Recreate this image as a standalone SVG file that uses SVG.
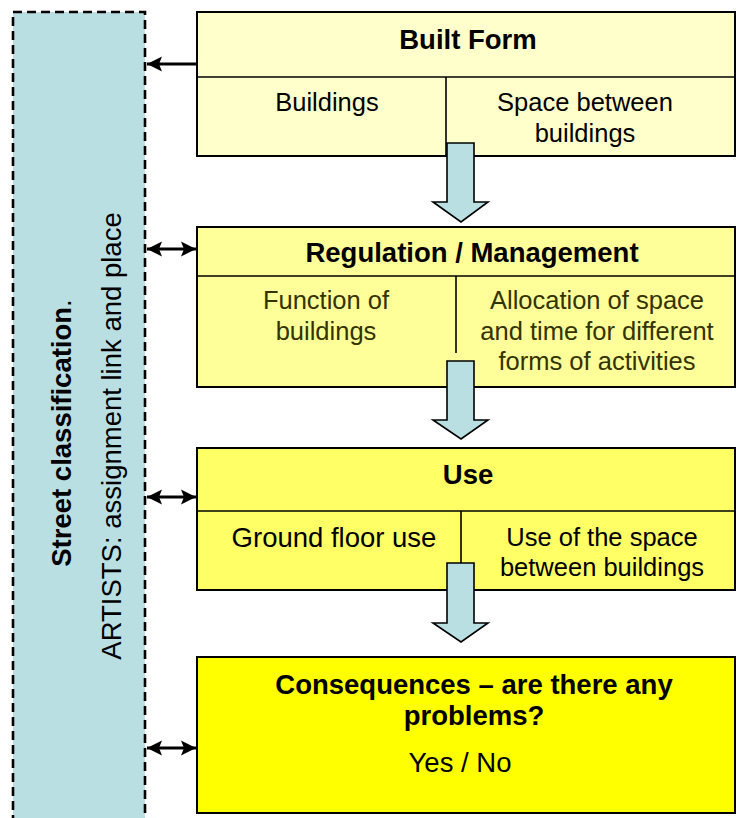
<svg xmlns="http://www.w3.org/2000/svg" width="736" height="818" viewBox="0 0 736 818">
<style>
text{font-family:"Liberation Sans",Arial,sans-serif;font-size:27.5px;text-anchor:middle;fill:#000}
.s{font-size:25.5px}
.b{font-weight:bold}
.ol{fill:#333300}
.box{stroke:#000;stroke-width:2}
.div{stroke:#000;stroke-width:1.6;fill:none}
.blk{fill:#BADFE3;stroke:#000;stroke-width:1.6;stroke-linejoin:miter}
.con{stroke:#000;stroke-width:2.8;fill:none}
</style>
<defs>
<marker id="ah" markerWidth="16" markerHeight="17" refX="15" refY="8.5" orient="auto-start-reverse" markerUnits="userSpaceOnUse">
<path d="M0,1 L15,8.5 L0,16 L3,8.5 Z" fill="#000"/>
</marker>
</defs>
<g id="panel">
<rect x="13" y="12" width="132" height="820" fill="#BADFE3" stroke="#000" stroke-width="2.6" stroke-dasharray="9,5"/>
<text class="b" transform="translate(71,433) rotate(-90)">Street classification<tspan font-weight="normal">.</tspan></text>
<text transform="translate(121,436) rotate(-90)">ARTISTS: assignment link and place</text>
</g>
<g id="built-form">
<rect class="box" x="197" y="12" width="538" height="144" fill="#FFFFCC"/>
<line class="div" x1="197" y1="77" x2="735" y2="77"/>
<line class="div" x1="446" y1="77" x2="446" y2="156"/>
<text class="b" x="468" y="49">Built Form</text>
<text class="s" x="327" y="111">Buildings</text>
<text class="s" x="585" y="111">Space between</text>
<text class="s" x="585" y="142">buildings</text>
</g>
<g id="regulation">
<rect class="box" x="197" y="227" width="538" height="160" fill="#FFFF99"/>
<line class="div" x1="197" y1="276" x2="735" y2="276"/>
<line class="div" x1="456" y1="276" x2="456" y2="353"/>
<text class="b" x="472" y="262">Regulation / Management</text>
<text class="s ol" x="326" y="309">Function of</text>
<text class="s ol" x="326" y="340">buildings</text>
<text class="s ol" x="597" y="309">Allocation of space</text>
<text class="s ol" x="597" y="340">and time for different</text>
<text class="s ol" x="597" y="370">forms of activities</text>
</g>
<g id="use">
<rect class="box" x="197" y="448" width="538" height="142" fill="#FFFF66"/>
<line class="div" x1="197" y1="511" x2="735" y2="511"/>
<line class="div" x1="461" y1="511" x2="461" y2="563"/>
<text class="b" x="468" y="484">Use</text>
<text x="334" y="547">Ground floor use</text>
<text class="s" x="602" y="546">Use of the space</text>
<text class="s" x="602" y="576">between buildings</text>
</g>
<g id="consequences">
<rect class="box" x="197" y="657" width="538" height="156" fill="#FFFF00"/>
<text class="b" x="474" y="694">Consequences – are there any</text>
<text class="b" x="474" y="725">problems?</text>
<text x="460" y="772">Yes / No</text>
</g>
<g id="connectors">
<path class="blk" d="M447,143 H474 V202 H488 L461,222 L433,202 H447 Z"/>
<path class="blk" d="M447,361 H474 V420 H488 L461,439 L433,420 H447 Z"/>
<path class="blk" d="M447,563 H474 V623 H488 L461,642 L433,623 H447 Z"/>
<line class="con" x1="197" y1="64" x2="147" y2="64" marker-end="url(#ah)"/>
<line class="con" x1="147" y1="249" x2="196" y2="249" marker-start="url(#ah)" marker-end="url(#ah)"/>
<line class="con" x1="147" y1="497" x2="196" y2="497" marker-start="url(#ah)" marker-end="url(#ah)"/>
<line class="con" x1="147" y1="748" x2="196" y2="748" marker-start="url(#ah)" marker-end="url(#ah)"/>
</g>
</svg>
